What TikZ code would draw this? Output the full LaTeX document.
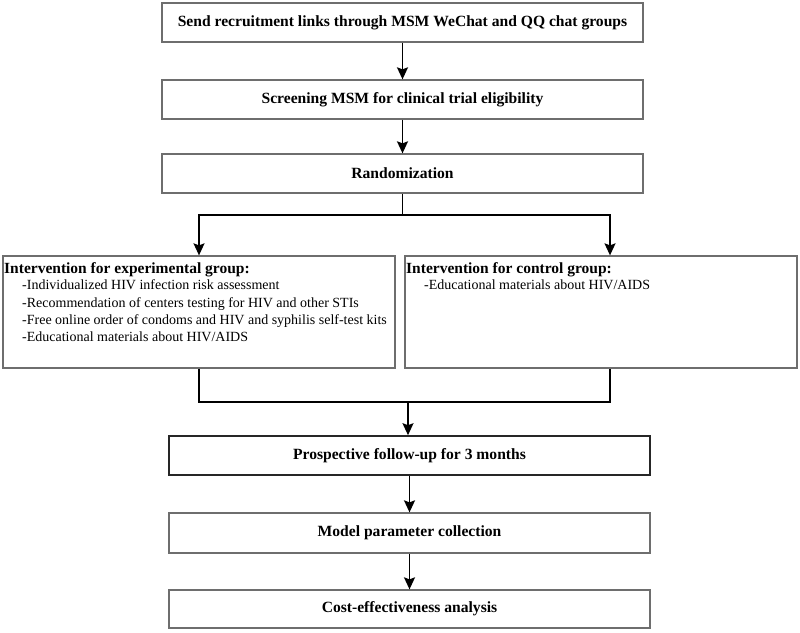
\documentclass[tikz,border=0pt]{standalone}
\usepackage{fontspec}
\setmainfont{Liberation Serif}
\usetikzlibrary{arrows.meta}
\definecolor{boxgray}{HTML}{6E6E6E}
\tikzset{
  flowbox/.style={draw=boxgray, line width=1.3pt, minimum width=481pt, minimum height=39pt, inner sep=0pt, font=\fontsize{15.6}{18}\selectfont\bfseries},
  groupbox/.style={draw=boxgray, line width=1.3pt, minimum width=392pt, minimum height=112pt, inner sep=0pt},
  grouptext/.style={anchor=north west, align=left, inner sep=0pt, font=\fontsize{14}{17.3}\selectfont},
  conn/.style={line width=1.5pt, black},
  arr/.style={conn, -{Stealth[length=12pt, width=11pt, inset=2pt]}}
}
\begin{document}
\begin{tikzpicture}[x=1pt,y=-1pt]
\useasboundingbox (0,0) rectangle (800,632);
\node[flowbox] (send) at (402.5,22.5) {Send recruitment links through MSM WeChat and QQ chat groups};
\node[flowbox] (screen) at (402.5,99.5) {Screening MSM for clinical trial eligibility};
\node[flowbox] (rand) at (402.5,173.5) {Randomization};
\node[groupbox] (exp) at (199,312) {};
\node[groupbox] (ctl) at (601,312) {};
\node[grouptext] (exptext) at (4,262) {{\fontsize{15.5}{19}\selectfont\bfseries Intervention for experimental group:}\\[-0.5pt]
\hspace*{18pt}-Individualized HIV infection risk assessment\\
\hspace*{18pt}-Recommendation of centers testing for HIV and other STIs\\
\hspace*{18pt}-Free online order of condoms and HIV and syphilis self-test kits\\
\hspace*{18pt}-Educational materials about HIV/AIDS};
\node[grouptext] (ctltext) at (406,262) {{\fontsize{15.5}{19}\selectfont\bfseries Intervention for control group:}\\[-0.5pt]
\hspace*{18pt}-Educational materials about HIV/AIDS};
\node[flowbox, draw=black!85, line width=1.6pt] (follow) at (409.5,455.5) {Prospective follow-up for 3 months};
\node[flowbox, minimum height=40pt] (model) at (409.5,533) {Model parameter collection};
\node[flowbox, minimum height=38pt] (cost) at (409.5,609) {Cost-effectiveness analysis};
\coordinate (split) at (402.5,215);
\coordinate (splitL) at (199,215);
\coordinate (splitR) at (610,215);
\coordinate (joinL) at (199,402);
\coordinate (joinR) at (610,402);
\coordinate (joinM) at (408,402);
\draw[arr] (send.south) -- (screen.north);
\draw[arr] (screen.south) -- (rand.north);
\draw[conn] (rand.south) -- (split);
\draw[arr] (splitR) -- (splitL) -- (exp.north);
\draw[arr] (split) -- (splitR) -- (splitR |- ctl.north);
\draw[conn] (exp.south) -- (joinL) -- (joinR) -- (joinR |- ctl.south);
\draw[arr] (joinM) -- (joinM |- follow.north);
\draw[arr] (follow.south) -- (model.north);
\draw[arr] (model.south) -- (cost.north);
\end{tikzpicture}
\end{document}
